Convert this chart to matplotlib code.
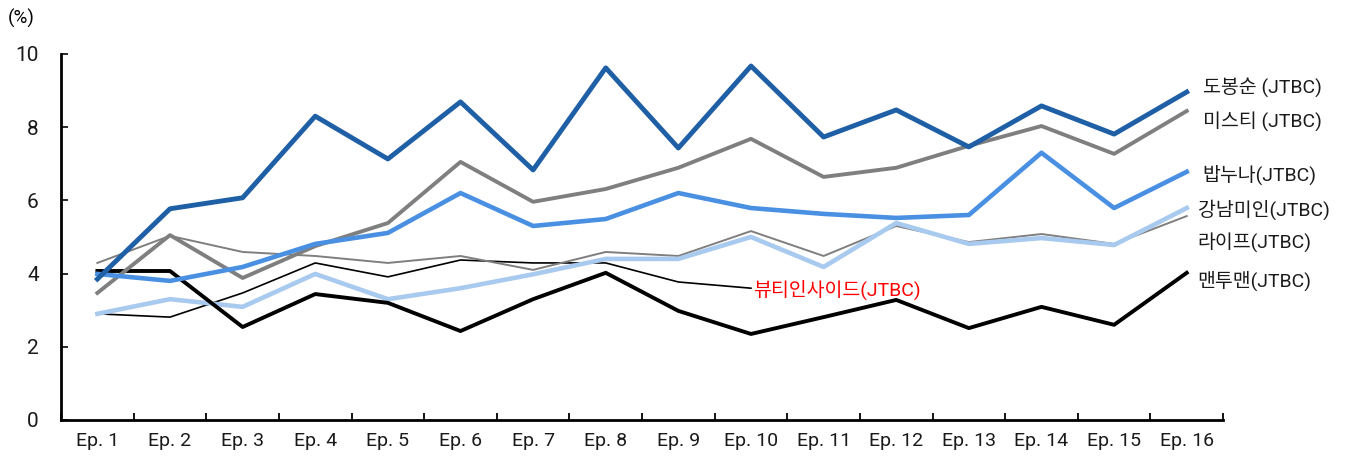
import numpy as np
import matplotlib.pyplot as plt

plt.rcParams['font.family'] = ['Roboto', 'Noto Sans CJK KR', 'DejaVu Sans']

# --- DATA ---
episodes = ['Ep. %d' % i for i in range(1, 17)]

dobongsoon = [3.85, 5.77, 6.07, 8.30, 7.13, 8.69, 6.83, 9.62, 7.43, 9.67, 7.73, 8.47, 7.46, 8.58, 7.81, 8.96]
misty = [3.47, 5.05, 3.88, 4.75, 5.38, 7.05, 5.96, 6.31, 6.89, 7.68, 6.64, 6.89, 7.49, 8.03, 7.27, 8.44]
bapnuna = [3.99, 3.80, 4.18, 4.81, 5.11, 6.20, 5.30, 5.49, 6.20, 5.79, 5.63, 5.52, 5.60, 7.30, 5.79, 6.78]
gangnam = [2.90, 3.30, 3.09, 3.99, 3.30, 3.60, 3.98, 4.40, 4.40, 5.00, 4.18, 5.38, 4.81, 4.97, 4.78, 5.79]
life = [4.29, 5.03, 4.59, 4.48, 4.29, 4.48, 4.10, 4.59, 4.48, 5.16, 4.48, 5.30, 4.86, 5.08, 4.81, 5.57]
man2man = [4.07, 4.07, 2.54, 3.44, 3.20, 2.43, 3.30, 4.02, 2.98, 2.35, 2.81, 3.28, 2.51, 3.09, 2.60, 4.02]
beauty = [2.90, 2.81, 3.47, 4.29, 3.91, 4.37, 4.29, 4.29, 3.77, 3.60]

x = np.arange(len(episodes))

fig = plt.figure(figsize=(13.48, 4.57), dpi=100)
ax = fig.add_axes([0.0453, 0.081, 0.862, 0.801])

# thin lines first, thick lines over them
ax.plot(x[:len(beauty)], beauty, color='black', lw=1.2)
ax.plot(x, life, color='#7f7f7f', lw=1.4)
ax.plot(x, gangnam, color='#a9caef', lw=3.3)
ax.plot(x, man2man, color='black', lw=2.8)
ax.plot(x, misty, color='#7f7f7f', lw=2.8)
ax.plot(x, bapnuna, color='#4a90e2', lw=3.3)
ax.plot(x, dobongsoon, color='#1f5fa6', lw=3.5)

# series labels
lab_kw = dict(fontsize=14, va='center', ha='left', color='#1a1a1a')
ax.text(15.22, 9.10, '도봉순 (JTBC)', **lab_kw)
ax.text(15.22, 8.17, '미스티 (JTBC)', **lab_kw)
ax.text(15.22, 6.70, '밥누나(JTBC)', **lab_kw)
ax.text(15.15, 5.74, '강남미인(JTBC)', **lab_kw)
ax.text(15.15, 4.87, '라이프(JTBC)', **lab_kw)
ax.text(15.15, 3.80, '맨투맨(JTBC)', **lab_kw)
ax.text(len(beauty) - 1 + 0.03, 3.55, '뷰티인사이드(JTBC)', fontsize=14,
        va='center', ha='left', color='#ff0000')

# axes settings
ax.set_xlim(-0.5, len(episodes) - 0.5)
ax.set_ylim(0, 10)
ax.set_yticks(np.arange(0, 11, 2))
ax.set_xticks(x)
ax.set_xticklabels(episodes)
ax.set_xticks(np.arange(-0.5, len(episodes)), minor=True)
ax.tick_params(axis='x', which='major', length=0, labelsize=14, pad=9, colors='#1a1a1a')
ax.tick_params(axis='x', which='minor', direction='in', length=5, width=1.3)
ax.tick_params(axis='y', direction='in', length=5, width=1.3, labelsize=15, pad=16, colors='#1a1a1a')
ax.spines['top'].set_visible(False)
ax.spines['right'].set_visible(False)
for s in ['left', 'bottom']:
    ax.spines[s].set_linewidth(2)
ax.text(-0.0224, 1.098, '(%)', transform=ax.transAxes, fontsize=13.5, ha='right', va='center')

fig.savefig('out.png', dpi=100)
